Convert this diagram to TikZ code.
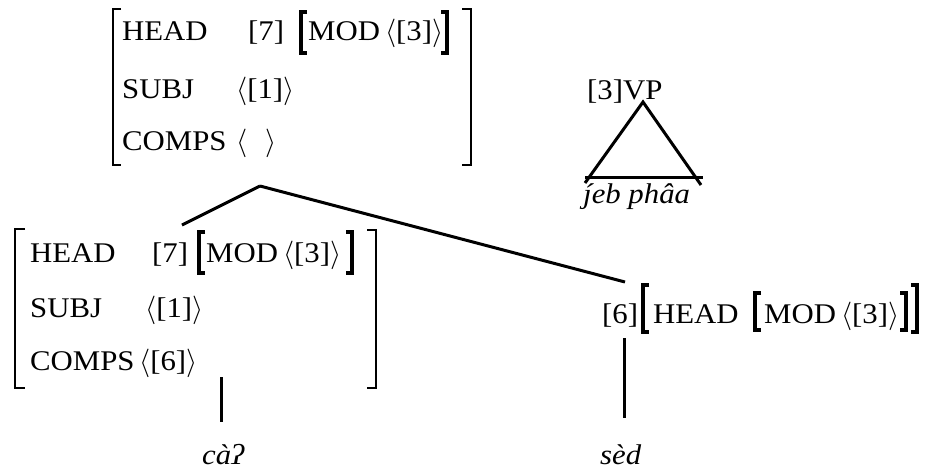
\documentclass[tikz,border=0pt]{standalone}
\usepackage{fix-cm}
\usepackage{fontspec}
\setmainfont{Liberation Serif}[FakeStretch=1.08]
\newcommand{\jacute}{\ooalign{\j\cr\hidewidth\kern2pt\char"00B4\hidewidth\cr}}
\newcommand{\lab}{$\big\langle$}
\newcommand{\rab}{$\big\rangle$}
\begin{document}
\begin{tikzpicture}[x=1pt, y=-1pt]
    \tikzset{
        feat/.style={anchor=base west, inner sep=0pt, font=\fontsize{28.5}{32}\selectfont},
        word/.style={anchor=base west, inner sep=0pt, font=\fontsize{28.5}{32}\selectfont\itshape},
        thinbr/.style={line width=1.4pt},
        boldbr/.style={line width=4.5pt},
        branch/.style={line width=3pt}
    }
    \useasboundingbox (0,0) rectangle (926,472);

        % mother AVM
        \node[feat] (headM)  at (122,40)  {HEAD};
        \node[feat] (tagM)   at (248,40)  {[7]};
        \node[feat] (modM)   at (308,40)  {MOD\hspace{5pt}\lab[3]\rab};
        \node[feat] (subjM)  at (122,98)  {SUBJ};
        \node[feat] (subjvM) at (236,98)  {\lab[1]\rab};
        \node[feat] (compM)  at (122,150) {COMPS};
        \node[feat] (compvM) at (236,150) {\lab\hspace{18pt}\rab};
        \draw[thinbr] (121,9) -| (113,165) -- (121,165);
        \draw[thinbr] (462,9) -| (471,165) -- (462,165);
        \draw[boldbr] (307,12) -| (301,53) -- (307,53);
        \draw[boldbr] (441,12) -| (447,53) -- (441,53);

        % head daughter AVM
        \node[feat] (headL)  at (30,262)  {HEAD};
        \node[feat] (tagL)   at (152,262) {[7]};
        \node[feat] (modL)   at (206,262) {MOD\hspace{5pt}\lab[3]\rab};
        \node[feat] (subjL)  at (30,317)  {SUBJ};
        \node[feat] (subjvL) at (145,317) {\lab[1]\rab};
        \node[feat] (compL)  at (30,370)  {COMPS};
        \node[feat] (compvL) at (139,370) {\lab[6]\rab};
        \draw[thinbr] (25,229) -| (15,388) -- (25,388);
        \draw[thinbr] (367,230) -| (376,388) -- (367,388);
        \draw[boldbr] (205,232) -| (199,273) -- (205,273);
        \draw[boldbr] (346,232) -| (352,273) -- (346,273);

        % modifier daughter
        \node[feat] (tagR)  at (602,323) {[6]};
        \node[feat] (headR) at (653,323) {HEAD};
        \node[feat] (modR)  at (764,323) {MOD\hspace{5pt}\lab[3]\rab};
        \draw[boldbr] (649,285) -| (643,332) -- (649,332);
        \draw[boldbr] (761,293) -| (755,330) -- (761,330);
        \draw[boldbr] (900,293) -| (906,330) -- (900,330);
        \draw[boldbr] (911,285) -| (917,332) -- (911,332);

        % VP triangle
        \node[feat] (vp)  at (587,99)  {[3]VP};
        \node[word] (jeb) at (583,203) {\jacute eb phâa};
        \coordinate (top) at (643,102);
        \coordinate (bl)  at (585,183);
        \coordinate (br)  at (701,185);
        \draw[branch] (bl) -- (top) -- (br);
        \draw[branch] (585,177) -- (703,177);

        % words
        \node[word] (caq) at (202,464) {cà\char"0294};
        \node[word] (sed) at (600,464) {sèd};

        % branches
        \coordinate (mother)  at (260,186);
        \coordinate (leftdtr) at (182,225);
        \coordinate (rightdtr) at (625,282);
        \coordinate (leftfoot) at (221,377);
        \coordinate (leftend)  at (221,422);
        \coordinate (rightfoot) at (624,338);
        \coordinate (rightend)  at (624,418);
        \draw[branch] (mother) -- (leftdtr);
        \draw[branch] (mother) -- (rightdtr);
        \draw[branch] (leftfoot) -- (leftend);
        \draw[branch] (rightfoot) -- (rightend);

    \end{tikzpicture}
\end{document}
